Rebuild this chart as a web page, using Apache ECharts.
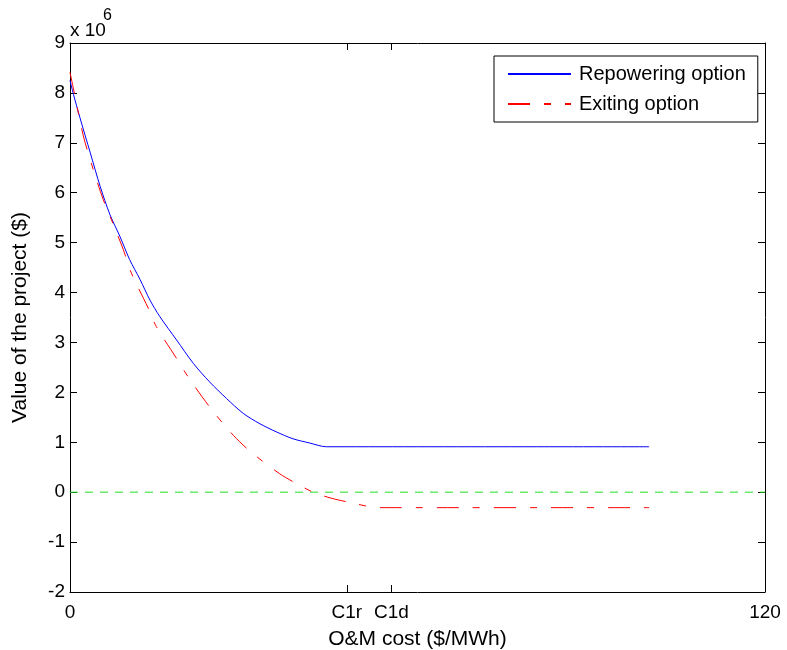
<!DOCTYPE html>
<html>
<head>
<meta charset="utf-8">
<script src="https://cdn.jsdelivr.net/npm/echarts@6/dist/echarts.min.js"></script>
<style>html,body{margin:0;padding:0;background:#fff;}#chart{width:787px;height:650px;}</style>
</head>
<body>
<div id="chart"></div>
<script>
// O&M cost ($/MWh) and project value (x 10^6 $)
const repoweringX = [0, 0.6, 1.7, 3.5, 5.2, 6.9, 8.6, 10.3, 12.1, 13.8, 15.5, 18.4, 21.3, 24.1, 27.0, 29.9, 32.8, 35.6, 38.5, 41.4, 44.3, 100];
const repoweringY = [8.25, 7.97, 7.51, 6.80, 6.13, 5.56, 5.13, 4.66, 4.26, 3.85, 3.52, 3.05, 2.58, 2.21, 1.88, 1.58, 1.37, 1.21, 1.07, 0.985, 0.91, 0.91];
const exitingX = [0, 0.6, 2.3, 4.0, 5.75, 7.5, 9.2, 10.6, 13.5, 14.9, 18.4, 20.4, 24.1, 28.2, 31.3, 36.2, 39.7, 42.0, 45.1, 48.9, 51.7, 53.7, 100];
const exitingY = [8.41, 8.08, 7.14, 6.47, 5.86, 5.36, 4.86, 4.39, 3.69, 3.32, 2.68, 2.31, 1.71, 1.14, 0.80, 0.37, 0.135, 0.0, -0.12, -0.22, -0.29, -0.31, -0.31];
const zeroLineX = [0, 120];
const zeroLineY = [0, 0];
const xTickValues = [0, 47.8, 55.5, 120];
const xTickLabels = ['0', 'C1r', 'C1d', '120'];
const seriesNames = ['Repowering option', 'Exiting option'];

const pairs = (xs, ys) => xs.map((x, i) => [x, ys[i]]);
const FONT = 'Liberation Sans';
const TICK_FS = 19;
const NAME_FS = 21;

const chart = echarts.init(document.getElementById('chart'), null, {renderer: 'canvas'});
chart.setOption({
  animation: false,
  backgroundColor: '#fff',
  textStyle: {fontFamily: FONT, color: '#000'},
  grid: {left: 70, right: 22, top: 43, bottom: 58, containLabel: false, outerBoundsMode: 'none'},
  graphic: [
    {type: 'text', left: 70, top: 21, style: {text: 'x 10', font: '19px ' + FONT, fill: '#000'}},
    {type: 'text', left: 103, top: 8, style: {text: '6', font: '16px ' + FONT, fill: '#000'}}
  ],
  legend: {
    data: seriesNames,
    orient: 'vertical',
    left: 494, top: 56,
    backgroundColor: '#fff',
    borderColor: '#000', borderWidth: 1, borderRadius: 0,
    padding: [8, 12, 8, 13],
    itemWidth: 63, itemHeight: 14, itemGap: 10,
    itemStyle: {color: 'rgba(0,0,0,0)', borderWidth: 0},
    textStyle: {fontFamily: FONT, fontSize: 20, color: '#000', padding: [0, 0, 0, 3]}
  },
  xAxis: [
    {
      type: 'value', min: 0, max: 120, position: 'bottom',
      name: 'O&M cost ($/MWh)', nameLocation: 'middle', nameGap: 37,
      nameTextStyle: {fontFamily: FONT, fontSize: NAME_FS, color: '#000'},
      splitLine: {show: false},
      axisLine: {onZero: false, lineStyle: {color: '#000', width: 1}},
      axisTick: {inside: true, length: 7, customValues: xTickValues, lineStyle: {color: '#000'}},
      axisLabel: {customValues: xTickValues, fontFamily: FONT, fontSize: TICK_FS, color: '#000', margin: 11,
        formatter: (v) => { const i = xTickValues.indexOf(v); return i >= 0 ? xTickLabels[i] : ''; }}
    },
    {
      type: 'value', min: 0, max: 120, position: 'top',
      splitLine: {show: false},
      axisLine: {onZero: false, lineStyle: {color: '#000', width: 1}},
      axisTick: {inside: true, length: 7, customValues: xTickValues, lineStyle: {color: '#000'}},
      axisLabel: {show: false}
    }
  ],
  yAxis: [
    {
      type: 'value', min: -2, max: 9, interval: 1, position: 'left',
      name: 'Value of the project ($)', nameLocation: 'middle', nameGap: 39,
      nameTextStyle: {fontFamily: FONT, fontSize: NAME_FS, color: '#000'},
      splitLine: {show: false},
      axisLine: {onZero: false, lineStyle: {color: '#000', width: 1}},
      axisTick: {inside: true, length: 7, lineStyle: {color: '#000'}},
      axisLabel: {fontFamily: FONT, fontSize: TICK_FS, color: '#000', margin: 5}
    },
    {
      type: 'value', min: -2, max: 9, interval: 1, position: 'right',
      splitLine: {show: false},
      axisLine: {onZero: false, lineStyle: {color: '#000', width: 1}},
      axisTick: {inside: true, length: 7, lineStyle: {color: '#000'}},
      axisLabel: {show: false}
    }
  ],
  series: [
    {
      name: seriesNames[0], type: 'line', data: pairs(repoweringX, repoweringY),
      symbol: 'none', smooth: 0.3, z: 3,
      lineStyle: {color: '#0000ff', width: 1},
      itemStyle: {color: '#0000ff'}
    },
    {
      name: seriesNames[1], type: 'line', data: pairs(exitingX, exitingY),
      symbol: 'none', smooth: 0.3, z: 4,
      lineStyle: {color: '#ff0000', width: 1, type: [22, 14, 7, 14]},
      itemStyle: {color: '#ff0000'}
    },
    {
      name: 'zero', type: 'line', data: pairs(zeroLineX, zeroLineY),
      symbol: 'none', z: 2, silent: true,
      lineStyle: {color: '#22e022', width: 1, type: [8, 7]}
    }
  ]
});
</script>
</body>
</html>
